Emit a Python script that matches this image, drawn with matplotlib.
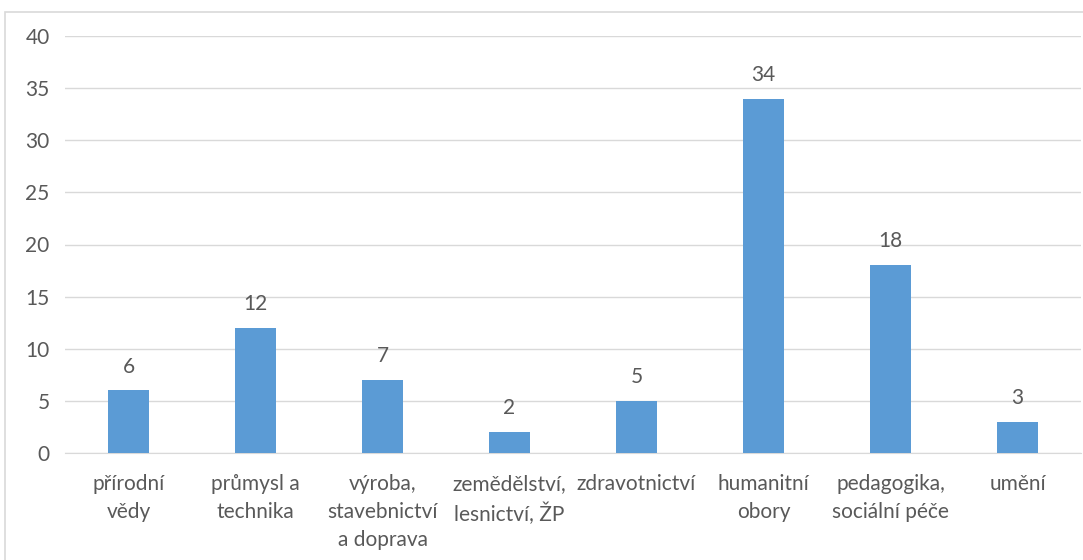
import matplotlib
matplotlib.use("Agg")
import matplotlib.pyplot as plt
from matplotlib.patches import Rectangle

categories = ["přírodní\nvědy", "průmysl a\ntechnika", "výroba,\nstavebnictví\na doprava",
              "zemědělství,\nlesnictví, ŽP", "zdravotnictví", "humanitní\nobory",
              "pedagogika,\nsociální péče", "umění"]
values = [6, 12, 7, 2, 5, 34, 18, 3]
yticks = [0, 5, 10, 15, 20, 25, 30, 35, 40]

plt.rcParams['font.family'] = ['Lato', 'DejaVu Sans']
TXT = "#595959"

fig = plt.figure(figsize=(10.83, 5.6), dpi=100)
ax = fig.add_axes([65/1083, 1-453/560, (1081-65)/1083, (453-36)/560])

x = list(range(len(categories)))
bars = ax.bar(x, values, width=0.315, color="#5B9BD5", zorder=3)
for xi, v in zip(x, values):
    ax.annotate(str(v), (xi, v), xytext=(0, 10), textcoords="offset points",
                ha="center", va="bottom", fontsize=15, color=TXT)

ax.set_xlim(-0.5, len(categories) - 0.5)
ax.set_ylim(0, 40)
ax.set_yticks(yticks)
ax.set_yticklabels([str(t) for t in yticks], fontsize=15, color=TXT)
ax.set_xticks(x)
ax.set_xticklabels(categories, fontsize=15, color=TXT, linespacing=1.5)
ax.tick_params(axis="both", length=0)
ax.tick_params(axis="y", pad=11)
ax.tick_params(axis="x", pad=15)
ax.grid(axis="y", color="#d9d9d9", linewidth=1, zorder=0)
for s in ["top", "right", "left"]:
    ax.spines[s].set_visible(False)
ax.spines["bottom"].set_color("#d9d9d9")

# chart-area border
fig.patches.append(Rectangle((5/1083, -0.1), 2, (560-12)/560 + 0.1,
                             transform=fig.transFigure, fill=False,
                             edgecolor="#d9d9d9", linewidth=1.2))

fig.savefig("out.png", dpi=100)
